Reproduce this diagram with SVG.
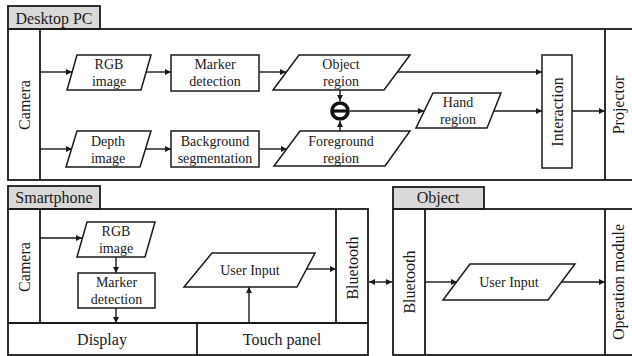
<svg xmlns="http://www.w3.org/2000/svg" width="632" height="356" viewBox="0 0 632 356" font-family="'Liberation Serif', 'DejaVu Serif', serif">
  <defs>
    <marker id="arr" viewBox="0 0 10 10" refX="10" refY="5" markerWidth="6" markerHeight="6" markerUnits="userSpaceOnUse" orient="auto-start-reverse">
      <path d="M0,0 L10,5 L0,10 z" fill="#1a1a1a"/>
    </marker>
    <style>
      text { font-family: 'Liberation Serif', 'DejaVu Serif', serif; fill: #1a1a1a; }
      .frame { fill: none; stroke: #1a1a1a; stroke-width: 1.8; }
      .tab { fill: #d9d9d9; stroke: #1a1a1a; stroke-width: 1.8; }
      .node { fill: #ffffff; stroke: #1a1a1a; stroke-width: 1.5; }
      .lbl { font-size: 14px; text-anchor: middle; }
      .big { font-size: 16px; text-anchor: middle; }
      .vert { font-size: 16px; text-anchor: middle; dominant-baseline: central; }
      .link { fill: none; stroke: #1a1a1a; stroke-width: 1.4; marker-end: url(#arr); }
    </style>
  </defs>
  <rect width="632" height="356" fill="#ffffff"/>

  <!-- Desktop PC container -->
  <g id="desktop-pc">
    <rect class="tab" x="8" y="6" width="92" height="23"/>
    <text class="big" x="54" y="24">Desktop PC</text>
    <rect class="frame" x="8" y="29" width="632" height="151"/>
    <line class="frame" x1="40" y1="29" x2="40" y2="180"/>
    <line class="frame" x1="605" y1="29" x2="605" y2="180"/>
  </g>
  <g id="pc-camera"><text class="vert" transform="translate(24,105) rotate(-90)">Camera</text></g>
  <g id="pc-projector"><text class="vert" transform="translate(618,105) rotate(-90)">Projector</text></g>

  <g id="pc-rgb-image">
    <polygon class="node" points="77,55 151,55 141,90 67,90"/>
    <text class="lbl" x="109" y="69">RGB</text>
    <text class="lbl" x="109" y="86">image</text>
  </g>
  <g id="pc-marker-detection">
    <rect class="node" x="171" y="55" width="88" height="36"/>
    <text class="lbl" x="215" y="69">Marker</text>
    <text class="lbl" x="215" y="86">detection</text>
  </g>
  <g id="pc-depth-image">
    <polygon class="node" points="77,131 151,131 140,167 66,167"/>
    <text class="lbl" x="108" y="146">Depth</text>
    <text class="lbl" x="108" y="163">image</text>
  </g>
  <g id="pc-background-segmentation">
    <rect class="node" x="171" y="131" width="88" height="36"/>
    <text class="lbl" x="215" y="146">Background</text>
    <text class="lbl" x="215" y="163">segmentation</text>
  </g>
  <g id="pc-object-region">
    <polygon class="node" points="299,55 410,55 384,90 273,90"/>
    <text class="lbl" x="341" y="69">Object</text>
    <text class="lbl" x="341" y="86">region</text>
  </g>
  <g id="pc-foreground-region">
    <polygon class="node" points="300,131 410,131 385,166 274,166"/>
    <text class="lbl" x="341" y="146">Foreground</text>
    <text class="lbl" x="341" y="163">region</text>
  </g>
  <g id="pc-subtract">
    <circle cx="340" cy="111" r="8" fill="#ffffff" stroke="#111" stroke-width="3.6"/>
    <line x1="332" y1="111" x2="348" y2="111" stroke="#111" stroke-width="3.2"/>
  </g>
  <g id="pc-hand-region">
    <polygon class="node" points="433,93 501,93 487,128 416,128"/>
    <text class="lbl" x="458" y="107">Hand</text>
    <text class="lbl" x="458" y="124">region</text>
  </g>
  <g id="pc-interaction">
    <rect class="node" x="542" y="55" width="30" height="113"/>
    <text class="vert" transform="translate(557,112) rotate(-90)">Interaction</text>
  </g>

  <!-- Smartphone container -->
  <g id="smartphone">
    <rect class="tab" x="8" y="186" width="92" height="23"/>
    <text class="big" x="54" y="203">Smartphone</text>
    <rect class="frame" x="8" y="209" width="360" height="146"/>
    <line class="frame" x1="40" y1="209" x2="40" y2="323"/>
    <line class="frame" x1="336" y1="209" x2="336" y2="323"/>
    <line class="frame" x1="8" y1="323" x2="368" y2="323"/>
    <line class="frame" x1="197" y1="323" x2="197" y2="355"/>
  </g>
  <g id="sp-camera"><text class="vert" transform="translate(24,267) rotate(-90)">Camera</text></g>
  <g id="sp-bluetooth"><text class="vert" transform="translate(352,268) rotate(-90)">Bluetooth</text></g>
  <g id="sp-display"><text class="big" x="102" y="345">Display</text></g>
  <g id="sp-touch-panel"><text class="big" x="282" y="345">Touch panel</text></g>
  <g id="sp-rgb-image">
    <polygon class="node" points="87,222 155,222 145,257 77,257"/>
    <text class="lbl" x="116" y="236">RGB</text>
    <text class="lbl" x="116" y="253">image</text>
  </g>
  <g id="sp-marker-detection">
    <rect class="node" x="78" y="273" width="77" height="35"/>
    <text class="lbl" x="116.5" y="287">Marker</text>
    <text class="lbl" x="116.5" y="304">detection</text>
  </g>
  <g id="sp-user-input">
    <polygon class="node" points="212,253 315,253 297,287 184,287"/>
    <text class="lbl" x="250" y="275">User Input</text>
  </g>

  <!-- Object container -->
  <g id="object">
    <rect class="tab" x="393" y="187" width="91" height="22"/>
    <text class="big" x="438" y="203">Object</text>
    <rect class="frame" x="393" y="209" width="250" height="146"/>
    <line class="frame" x1="425" y1="209" x2="425" y2="355"/>
    <line class="frame" x1="605" y1="209" x2="605" y2="355"/>
  </g>
  <g id="obj-bluetooth"><text class="vert" transform="translate(409,282) rotate(-90)">Bluetooth</text></g>
  <g id="obj-operation-module"><text class="vert" transform="translate(618,282) rotate(-90)">Operation module</text></g>
  <g id="obj-user-input">
    <polygon class="node" points="470,264 575,264 548,300 443,300"/>
    <text class="lbl" x="509" y="287">User Input</text>
  </g>

  <!-- Connectors -->
  <g id="connectors">
    <line class="link" x1="40" y1="72" x2="72" y2="72"/>
    <line class="link" x1="146" y1="72" x2="171" y2="72"/>
    <line class="link" x1="259" y1="72" x2="286" y2="72"/>
    <line class="link" x1="397" y1="72" x2="542" y2="72"/>
    <line class="link" x1="40" y1="149" x2="72" y2="149"/>
    <line class="link" x1="145" y1="149" x2="171" y2="149"/>
    <line class="link" x1="259" y1="149" x2="287" y2="149"/>
    <line class="link" x1="340" y1="90" x2="340" y2="101"/>
    <line class="link" x1="340" y1="131" x2="340" y2="121"/>
    <line class="link" x1="350" y1="111" x2="424" y2="111"/>
    <line class="link" x1="494" y1="111" x2="542" y2="111"/>
    <line class="link" x1="572" y1="111" x2="605" y2="111"/>

    <line class="link" x1="40" y1="238" x2="82" y2="238"/>
    <line class="link" x1="116" y1="257" x2="116" y2="273"/>
    <line class="link" x1="116" y1="308" x2="116" y2="323"/>
    <line class="link" x1="249" y1="323" x2="249" y2="287"/>
    <line class="link" x1="306" y1="269" x2="336" y2="269"/>
    <line class="link" x1="369" y1="282" x2="392" y2="282" marker-start="url(#arr)" stroke-width="2"/>

    <line class="link" x1="425" y1="282" x2="457" y2="282"/>
    <line class="link" x1="561" y1="282" x2="605" y2="282"/>
  </g>
</svg>
